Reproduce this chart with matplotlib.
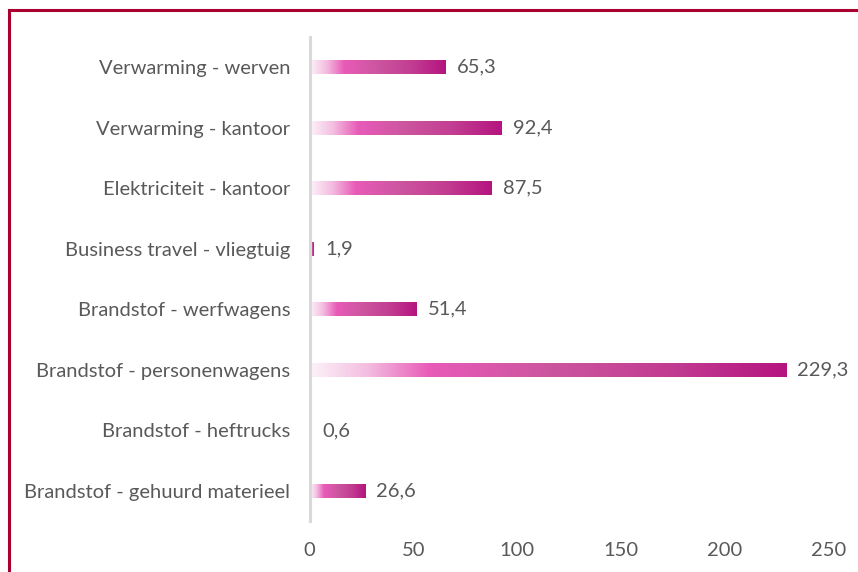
import numpy as np
import matplotlib
matplotlib.use("Agg")
import matplotlib.pyplot as plt
from matplotlib.colors import LinearSegmentedColormap
from matplotlib.lines import Line2D

categories = [
    "Verwarming - werven",
    "Verwarming - kantoor",
    "Elektriciteit - kantoor",
    "Business travel - vliegtuig",
    "Brandstof - werfwagens",
    "Brandstof - personenwagens",
    "Brandstof - heftrucks",
    "Brandstof - gehuurd materieel",
]
values = [65.3, 92.4, 87.5, 1.9, 51.4, 229.3, 0.6, 26.6]
xticks = [0, 50, 100, 150, 200, 250]

plt.rcParams['font.family'] = ['Lato', 'DejaVu Sans']
text_color = "#595959"

fig = plt.figure(figsize=(8.58, 5.72), dpi=100)
ax = fig.add_axes([309.5/858, 1-521.3/572, (828.5-309.5)/858, (521.3-36.7)/572])

cmap = LinearSegmentedColormap.from_list(
    "grad",
    [(0.0, "#fdf2f9"), (0.12, "#f3bde0"), (0.25, "#e85bb8"),
     (0.5, "#cc559f"), (0.75, "#c23d92"), (1.0, "#b5147f")])
grad = np.linspace(0, 1, 256).reshape(1, -1)

n = len(categories)
ypos = np.arange(n)[::-1]
h = 0.23
for y, v, c in zip(ypos, values, categories):
    ax.imshow(grad, cmap=cmap, aspect="auto", interpolation="bilinear",
              extent=(0, v, y - h/2, y + h/2), zorder=2)
    ax.annotate(f"{v:.1f}".replace(".", ","), xy=(v, y), xytext=(8.4, 0),
                textcoords="offset points", va="center", ha="left",
                fontsize=14.5, color=text_color)

ax.set_xlim(0, 250)
ax.set_ylim(-0.5, n - 0.5)
ax.set_yticks(ypos)
ax.set_yticklabels(categories)
ax.set_xticks(xticks)
ax.set_xticklabels([str(t) for t in xticks])
ax.tick_params(axis="both", length=0, labelsize=14.5, labelcolor=text_color)
ax.tick_params(axis="y", pad=14)
ax.tick_params(axis="x", pad=15)
for s in ["top", "right", "bottom"]:
    ax.spines[s].set_visible(False)
ax.spines["left"].set_color("#d9d9d9")
ax.spines["left"].set_linewidth(2.2)
ax.spines["left"].set_zorder(3)

# outer border (top and left visible)
bc = "#a8002f"
fig.add_artist(Line2D([9/858, 1.0], [1-10/572, 1-10/572], color=bc, lw=2.2,
                      transform=fig.transFigure))
fig.add_artist(Line2D([9/858, 9/858], [0.0, 1-10/572], color=bc, lw=2.2,
                      transform=fig.transFigure))

fig.savefig("out.png", dpi=100)
